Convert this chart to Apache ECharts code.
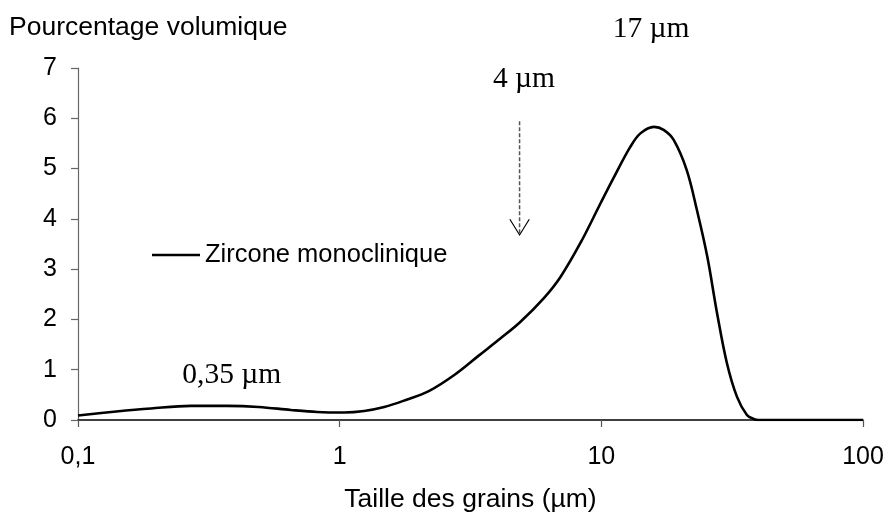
<!DOCTYPE html>
<html><head><meta charset="utf-8">
<script src="https://cdn.jsdelivr.net/npm/echarts@6/dist/echarts.min.js"></script>
<style>html,body{margin:0;padding:0;background:#fff}#c{width:888px;height:518px}</style>
</head><body><div id="c"></div>
<script>
// ---- data ----
const grainSizes = [0.1, 0.14, 0.19, 0.27, 0.37, 0.49, 0.65, 0.82, 1.04, 1.24, 1.48, 1.75, 2.2, 2.75, 3.4, 4.11, 4.9, 6.02, 6.97, 8.32, 9.91, 11.1, 12.9, 14.1, 15.9, 17.3, 18.9, 21.2, 23.2, 25.4, 27.7, 30.2, 33.0, 36.0, 38.2, 40, 100];
const volumePct  = [0.09, 0.17, 0.23, 0.28, 0.28, 0.26, 0.20, 0.16, 0.15, 0.18, 0.26, 0.38, 0.58, 0.90, 1.28, 1.62, 1.95, 2.42, 2.84, 3.52, 4.30, 4.80, 5.43, 5.70, 5.83, 5.77, 5.57, 4.97, 4.17, 3.25, 2.12, 1.13, 0.46, 0.10, 0.02, 0, 0];
const seriesName = 'Zircone monoclinique';
const xAxisTitle = 'Taille des grains (µm)';
const yAxisTitle = 'Pourcentage volumique';
const xMin = 0.1, xMax = 100;
const yMin = 0, yMax = 7, yStep = 1;
const annotationTexts = ['17 µm', '4 µm', '0,35 µm'];
const annotationX = [15.5, 5.06, 0.387];
const annotationY = [7.77, 6.77, 0.89];
const arrowX = 4.87, arrowFromY = 5.94, arrowToY = 3.68;

// ---- chart ----
const sans = '"Liberation Sans", Arial, sans-serif';
const serif = '"Liberation Serif", "Times New Roman", serif';
const chart = echarts.init(document.getElementById('c'), null, {renderer: 'canvas'});
chart.setOption({
  animation: false,
  backgroundColor: '#fff',
  grid: {left: 78, right: 25, top: 68, bottom: 98},
  title: {
    text: yAxisTitle, left: 4, top: 9,
    textStyle: {fontFamily: sans, fontSize: 26.5, fontWeight: 'normal', color: '#000'}
  },
  legend: {
    data: [seriesName], left: 147, top: 237, icon: 'rect', itemWidth: 48, itemHeight: 2.5,
    textStyle: {fontFamily: sans, fontSize: 25.5, color: '#000'},
    itemStyle: {color: '#000'}
  },
  xAxis: {
    type: 'log', logBase: 10, min: xMin, max: xMax,
    name: xAxisTitle, nameLocation: 'middle', nameGap: 66,
    nameTextStyle: {fontFamily: sans, fontSize: 26.5, color: '#000'},
    axisLine: {onZero: false, lineStyle: {color: '#000', width: 1.5}},
    axisTick: {show: true, length: 7, lineStyle: {color: '#555', width: 1.2}},
    minorTick: {show: false},
    splitLine: {show: false},
    axisLabel: {
      margin: 25, fontFamily: sans, fontSize: 25, color: '#000',
      formatter: v => String(Number(Number(v).toPrecision(6))).replace('.', ',')
    }
  },
  yAxis: {
    type: 'value', min: yMin, max: yMax, interval: yStep,
    axisLine: {show: true, lineStyle: {color: '#666', width: 1.2}},
    axisTick: {show: true, length: 7, lineStyle: {color: '#666', width: 1.2}},
    splitLine: {show: false},
    axisLabel: {margin: 21, fontFamily: sans, fontSize: 25, color: '#000'}
  },
  series: [{
    type: 'line', name: seriesName,
    data: grainSizes.map((x, i) => [x, volumePct[i]]),
    symbol: 'none', showSymbol: false, smooth: 0.35,
    lineStyle: {color: '#000', width: 2.6}, itemStyle: {color: '#000'}, z: 5
  }]
});

// ---- annotations placed through the axes' own scales ----
const px = (x, y) => chart.convertToPixel({gridIndex: 0}, [x, y]);
const graphics = annotationTexts.map((t, i) => {
  const p = px(annotationX[i], annotationY[i]);
  return {
    type: 'text', x: p[0], y: p[1], z: 10,
    style: {text: t, font: '29.5px ' + serif, fill: '#000',
            textAlign: 'center', textVerticalAlign: 'middle', align: 'center', verticalAlign: 'middle'}
  };
});
const a0 = px(arrowX, arrowFromY), a1 = px(arrowX, arrowToY);
graphics.push({
  type: 'line', z: 10,
  shape: {x1: a0[0], y1: a0[1], x2: a1[0], y2: a1[1]},
  style: {stroke: '#555', lineWidth: 1.5, lineDash: [4, 2]}
});
graphics.push({
  type: 'polyline', z: 10,
  shape: {points: [[a1[0] - 9.7, a1[1] - 15.7], [a1[0], a1[1]], [a1[0] + 9.7, a1[1] - 15.7]]},
  style: {stroke: '#000', lineWidth: 1.2, fill: null}
});
chart.setOption({graphic: graphics});
</script>
</body></html>
